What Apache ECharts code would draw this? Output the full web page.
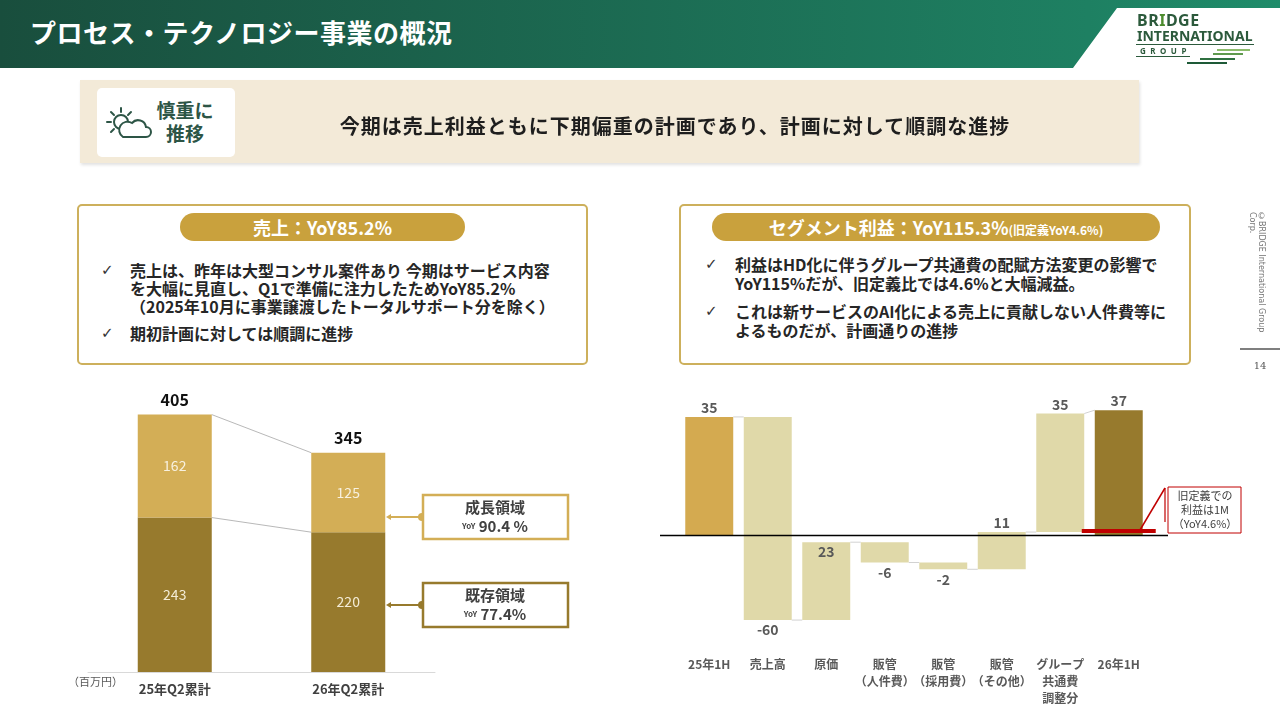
<!DOCTYPE html>
<html>
<head>
<meta charset="utf-8">
<script src="https://cdn.jsdelivr.net/npm/echarts@6/dist/echarts.min.js"></script>
<style>
body{margin:0;width:1280px;height:720px;position:relative;overflow:hidden;background:#fff;font-family:"Noto Sans CJK JP","Noto Sans",sans-serif;color:#1e1e1e;}
#main{position:absolute;left:0;top:0;width:1280px;height:720px;}
.abs{position:absolute;}
.header{left:0;top:0;width:1280px;height:68px;background:linear-gradient(90deg,#194e3d,#1e8062 85%,#1f8c6a);clip-path:polygon(0 0,1280px 0,1280px 8px,1117px 8px,1073px 68px,0 68px);}
.header h1{position:absolute;margin:0;left:30px;top:14px;font-size:26px;line-height:36px;font-weight:700;color:#fff;letter-spacing:0.5px;white-space:nowrap;}
.logo{font-family:"Noto Sans","DejaVu Sans",sans-serif;font-weight:700;color:#2c5a3c;white-space:nowrap;}
.banner{left:80px;top:80px;width:1059px;height:83px;background:#f3ead8;box-shadow:1px 2px 3px rgba(0,0,0,0.12);}
.badge{left:97px;top:88px;width:138px;height:69px;background:#fff;border-radius:5px;}
.badge-t{left:150px;top:98px;width:70px;text-align:center;font-size:19px;line-height:23px;font-weight:700;color:#2d5546;}
.banner-t{left:80px;top:112px;width:1190px;text-align:center;font-size:20px;line-height:28px;font-weight:700;letter-spacing:1px;white-space:nowrap;}
.box{top:204px;height:161px;border:2px solid #cdb05c;border-radius:5px;box-sizing:border-box;background:#fff;}
.pill{top:213px;height:28px;border-radius:14px;background:#c9a13d;color:#fff;font-weight:700;font-size:18px;line-height:28px;text-align:center;white-space:nowrap;}
.bl{font-size:16px;font-weight:700;white-space:nowrap;color:#262626;}
.ck{font-family:"DejaVu Sans",sans-serif;font-size:15px;font-weight:700;color:#333;}
.copy{left:1246px;top:212px;writing-mode:vertical-rl;font-family:"DejaVu Sans",sans-serif;font-size:8px;line-height:9px;color:#777;width:20px;height:130px;}
</style>
</head>
<body>
<div id="main"></div>

<div class="abs header"><h1>プロセス・テクノロジー事業の概況</h1></div>

<!-- ロゴ -->
<div class="abs logo" style="left:1137px;top:10px;font-size:16px;line-height:20px;letter-spacing:0.5px;">BR<span style="color:#4c8c2e">I</span>DGE</div>
<div class="abs logo" style="left:1137px;top:27px;font-size:14px;line-height:18px;letter-spacing:0px;">INTERNATIONAL</div>
<div class="abs" style="left:1136px;top:44px;width:118px;height:1px;background:#2c5a3c;"></div>
<div class="abs logo" style="left:1140px;top:46px;font-size:8px;line-height:10px;letter-spacing:4.5px;">GROUP</div>
<div class="abs" style="left:1136px;top:56px;width:54px;height:1px;background:#2c5a3c;"></div>
<div class="abs" style="left:1217px;top:49px;width:33px;height:2px;background:#8cbc6c;"></div>
<div class="abs" style="left:1213px;top:53px;width:30px;height:2px;background:#5f9a4e;"></div>
<div class="abs" style="left:1200px;top:58px;width:35px;height:2px;background:#2f7040;"></div>
<div class="abs" style="left:1187px;top:62px;width:40px;height:2px;background:#1e5a38;"></div>

<!-- バナー -->
<div class="abs banner"></div>
<div class="abs badge"></div>
<svg class="abs" style="left:104px;top:104px" width="50" height="38" viewBox="0 0 50 38">
  <g stroke="#2d5546" stroke-width="2" fill="none" stroke-linecap="round">
    <circle cx="17" cy="18" r="7"/>
    <line x1="17" y1="4" x2="17" y2="8"/>
    <line x1="3" y1="18" x2="7" y2="18"/>
    <line x1="7" y1="8" x2="10" y2="11"/>
    <line x1="27" y1="8" x2="24" y2="11"/>
    <line x1="7" y1="28" x2="10" y2="25"/>
    <path d="M19 33 H42 A5 5 0 0 0 42 23 A8 8 0 0 0 28 19 A7 7 0 0 0 19 33 Z" fill="#fff"/>
  </g>
</svg>
<div class="abs badge-t">慎重に<br>推移</div>
<div class="abs banner-t" style="left:80px;width:1190px;">今期は売上利益ともに下期偏重の計画であり、計画に対して順調な進捗</div>

<!-- 左ボックス -->
<div class="abs box" style="left:77px;width:511px;"></div>
<div class="abs pill" style="left:180px;width:285px;">売上：YoY85.2%</div>
<div class="abs ck" style="left:101px;top:261px;line-height:18px;">✓</div>
<div class="abs bl" style="left:130px;top:261px;line-height:18px;">売上は、昨年は大型コンサル案件あり 今期はサービス内容<br>を大幅に見直し、Q1で準備に注力したためYoY85.2%<br>（2025年10月に事業譲渡したトータルサポート分を除く）</div>
<div class="abs ck" style="left:101px;top:324px;line-height:18px;">✓</div>
<div class="abs bl" style="left:130px;top:324px;line-height:18px;">期初計画に対しては順調に進捗</div>

<!-- 右ボックス -->
<div class="abs box" style="left:679px;width:512px;"></div>
<div class="abs pill" style="left:712px;width:448px;">セグメント利益：YoY115.3%<span style="font-size:12px;">(旧定義YoY4.6%)</span></div>
<div class="abs ck" style="left:705px;top:255px;line-height:19px;">✓</div>
<div class="abs bl" style="left:735px;top:255px;line-height:19px;">利益はHD化に伴うグループ共通費の配賦方法変更の影響で<br>YoY115%だが、旧定義比では4.6%と大幅減益。</div>
<div class="abs ck" style="left:705px;top:302px;line-height:19px;">✓</div>
<div class="abs bl" style="left:735px;top:302px;line-height:19px;">これは新サービスのAI化による売上に貢献しない人件費等に<br>よるものだが、計画通りの進捗</div>

<!-- 右端 -->
<div class="abs copy">©BRIDGE International Group Corp.</div>
<div class="abs" style="left:1240px;top:348px;width:40px;height:2px;background:#7f7f7f;"></div>
<div class="abs" style="left:1250px;top:360px;width:20px;text-align:center;font-family:'DejaVu Serif',serif;font-size:10px;color:#555;">14</div>

<script>
// 売上（左グラフ）
var salesCats = ['25年Q2累計', '26年Q2累計'];
var existingSales = [243, 220];
var growthSales = [162, 125];
var growthYoY = '90.4 %';
var existingYoY = '77.4%';

// セグメント利益（右グラフ）
var profitCats = ['25年1H', '売上高', '原価', '販管\n（人件費）', '販管\n（採用費）', '販管\n（その他）', 'グループ\n共通費\n調整分', '26年1H'];
var profitValues = [35, -60, 23, -6, -2, 11, 35, 37];
var oldDefProfit = 1;

var FONT = '"Noto Sans CJK JP", "Noto Sans", sans-serif';
var barW = 74;
var labelPos = ['top', 'bottom', 'insideTop', 'bottom', 'bottom', 'top', 'top', 'top'];
var wfColors = { start: '#d4aa50', delta: '#e0d9a9', end: '#977a2d' };

var salesTotals = existingSales.map(function (v, i) { return v + growthSales[i]; });

// 滝グラフ用の区間を作る
var last = profitValues.length - 1;
var wfData = [];
var run = 0;
profitValues.forEach(function (v, i) {
    var low, high;
    if (i === 0 || i === last) {
        low = Math.min(0, v); high = Math.max(0, v); run = v;
    } else {
        low = Math.min(run, run + v); high = Math.max(run, run + v); run += v;
    }
    wfData.push([i, low, high, v, run]);
});

function renderWaterfall(params, api) {
    var i = params.dataIndex;
    var low = api.value(1), high = api.value(2), v = api.value(3), lvl = api.value(4);
    var band = api.size([1, 0])[0];
    var w = band * 0.82;
    var pTop = api.coord([i, high]);
    var pBot = api.coord([i, low]);
    var kind = i === 0 ? 'start' : (i === last ? 'end' : 'delta');
    var children = [{
        type: 'rect',
        shape: { x: pTop[0] - w / 2, y: pTop[1], width: w, height: pBot[1] - pTop[1] },
        style: { fill: wfColors[kind] }
    }];
    var ty, va;
    if (labelPos[i] === 'top') { ty = pTop[1] - 2; va = 'bottom'; }
    else if (labelPos[i] === 'bottom') { ty = pBot[1] + 3; va = 'top'; }
    else { ty = pTop[1] + 2; va = 'top'; }
    children.push({
        type: 'text', z2: 50,
        style: { text: String(v), x: pTop[0], y: ty, align: 'center', verticalAlign: va, fill: '#595959', font: 'bold 14px ' + FONT }
    });
    if (i < last) {
        var nextLvl = (i + 1 === last) ? profitValues[last] : lvl;
        var a = api.coord([i, lvl]), b = api.coord([i + 1, nextLvl]);
        children.push({
            type: 'line',
            shape: { x1: a[0] + w / 2, y1: a[1], x2: b[0] - w / 2, y2: b[1] },
            style: { stroke: '#d2d2d2', lineWidth: 1 }
        });
    }
    if (i === 0) {
        var z = api.coord([0, 0]);
        var cs = params.coordSys;
        children.push({
            type: 'line', z2: 80,
            shape: { x1: cs.x - 20, y1: z[1], x2: cs.x + cs.width + 20, y2: z[1] },
            style: { stroke: '#000', lineWidth: 1.5 }
        });
    }
    if (i === last) {
        var r = api.coord([i, oldDefProfit]);
        children.push({
            type: 'line', z2: 90,
            shape: { x1: r[0] - w / 2 - 13, y1: r[1] - 1, x2: r[0] + w / 2 + 13, y2: r[1] - 1 },
            style: { stroke: '#c00000', lineWidth: 4 }
        });
    }
    return { type: 'group', children: children };
}

function renderSalesLinks(params, api) {
    var a = api.coord([0, api.value(1)]);
    var b = api.coord([1, api.value(2)]);
    return {
        type: 'line',
        shape: { x1: a[0] + barW / 2, y1: a[1], x2: b[0] - barW / 2, y2: b[1] },
        style: { stroke: '#a6a6a6', lineWidth: 0.8 }
    };
}

function renderTotals(params, api) {
    var p = api.coord([api.value(0), api.value(1)]);
    return {
        type: 'text',
        style: { text: String(api.value(1)), x: p[0], y: p[1] - 7, align: 'center', verticalAlign: 'bottom', fill: '#111', font: 'bold 16px ' + FONT }
    };
}

function annoBox(y, color, title, yoy) {
    return [
        { type: 'rect', shape: { x: 423, y: y, width: 145, height: 44 }, style: { fill: '#fff', stroke: color, lineWidth: 2.5 } },
        {
            type: 'text', style: {
                x: 495, y: y + 12, align: 'center', verticalAlign: 'middle',
                text: title, fill: '#404040', font: 'bold 15px ' + FONT
            }
        },
        {
            type: 'text', style: {
                x: 495, y: y + 31, align: 'center', verticalAlign: 'middle',
                text: '{s|YoY} {b|' + yoy + '}',
                rich: {
                    s: { fontSize: 8, fontWeight: 'bold', fill: '#404040', fontFamily: FONT },
                    b: { fontSize: 15, fontWeight: 'bold', fill: '#404040', fontFamily: FONT }
                }
            }
        }
    ];
}

function annoLink(y, color) {
    return [
        { type: 'line', shape: { x1: 389, y1: y, x2: 422, y2: y }, style: { stroke: color, lineWidth: 2 } },
        { type: 'polygon', shape: { points: [[386, y], [391, y - 3], [391, y + 3]] }, style: { fill: color } },
        { type: 'circle', shape: { cx: 422, cy: y, r: 4 }, style: { fill: color } }
    ];
}

var chart = echarts.init(document.getElementById('main'), null, { renderer: 'canvas' });

var option = {
    animation: false,
    textStyle: { fontFamily: FONT },
    grid: [
        { left: 88, top: 386, width: 347, height: 286 },
        { left: 680, top: 400, width: 468, height: 237 }
    ],
    xAxis: [
        {
            type: 'category', gridIndex: 0, data: salesCats,
            axisLine: { lineStyle: { color: '#d9d9d9' } },
            axisTick: { show: false },
            axisLabel: { color: '#404040', fontSize: 13, fontWeight: 'bold', margin: 11 }
        },
        {
            type: 'category', gridIndex: 1, data: profitCats,
            axisLine: { show: false, onZero: false },
            axisTick: { show: false },
            axisLabel: { color: '#595959', fontSize: 12, fontWeight: 'bold', margin: 19, lineHeight: 17, interval: 0, verticalAlign: 'top' }
        }
    ],
    yAxis: [
        { type: 'value', gridIndex: 0, min: 0, max: 450, show: false },
        { type: 'value', gridIndex: 1, min: -30, max: 40, show: false }
    ],
    series: [
        {
            type: 'bar', name: '既存領域', stack: 'sales', xAxisIndex: 0, yAxisIndex: 0,
            data: existingSales, barWidth: barW,
            itemStyle: { color: '#977a2d' },
            label: { show: true, position: 'inside', color: '#f4ecd6', fontSize: 14 }
        },
        {
            type: 'bar', name: '成長領域', stack: 'sales', xAxisIndex: 0, yAxisIndex: 0,
            data: growthSales, barWidth: barW,
            itemStyle: { color: '#d3ae56' },
            label: { show: true, position: 'inside', color: '#f8f1df', fontSize: 14 }
        },
        {
            type: 'custom', xAxisIndex: 0, yAxisIndex: 0, z: 1,
            renderItem: renderSalesLinks,
            encode: { x: 0, y: 1 },
            data: [[0, salesTotals[0], salesTotals[1]], [0, existingSales[0], existingSales[1]]]
        },
        {
            type: 'custom', xAxisIndex: 0, yAxisIndex: 0,
            renderItem: renderTotals,
            encode: { x: 0, y: 1 },
            data: salesTotals.map(function (t, i) { return [i, t]; })
        },
        {
            type: 'custom', xAxisIndex: 1, yAxisIndex: 1,
            renderItem: renderWaterfall,
            encode: { x: 0, y: [1, 2] },
            data: wfData
        }
    ],
    graphic: [
        { type: 'text', left: 68, top: 676, style: { text: '（百万円）', fill: '#595959', font: '11px ' + FONT } },
        { type: 'group', children: annoLink(517, '#d3ae56').concat(annoBox(495, '#d3ae56', '成長領域', growthYoY)) },
        { type: 'group', children: annoLink(605, '#977a2d').concat(annoBox(583, '#977a2d', '既存領域', existingYoY)) },
        { type: 'line', z: 120, shape: { x1: 1140, y1: 530, x2: 1165, y2: 488 }, style: { stroke: '#c00000', lineWidth: 1.5 } },
        { type: 'line', z: 120, shape: { x1: 1165, y1: 488, x2: 1165, y2: 522 }, style: { stroke: '#c00000', lineWidth: 1.2 } },
        { type: 'rect', z: 120, shape: { x: 1168, y: 487, width: 73, height: 46 }, style: { fill: '#fff', stroke: '#c00000', lineWidth: 1 } },
        {
            type: 'text', z: 121, style: {
                x: 1205, y: 510, align: 'center', verticalAlign: 'middle',
                text: '旧定義での\n利益は1M\n（YoY4.6%）', lineHeight: 14, fill: '#404040', font: '11px ' + FONT
            }
        }
    ]
};

chart.setOption(option);
</script>
</body>
</html>
